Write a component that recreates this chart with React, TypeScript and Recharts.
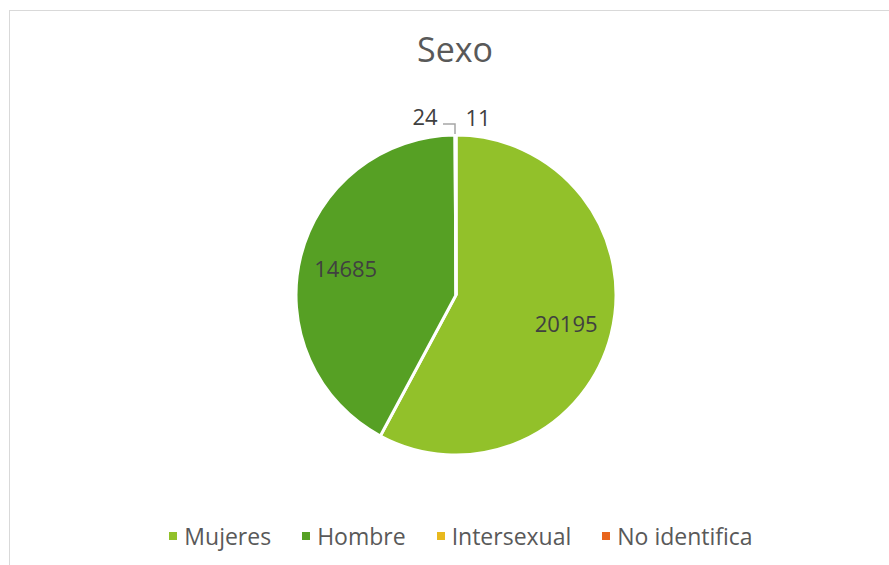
import { Pie, PieChart, Cell, Legend } from "recharts";

const categories = ["Mujeres", "Hombre", "Intersexual", "No identifica"];
const counts = [20195, 14685, 24, 11];
const colors = ["#92C12A", "#56A024", "#E8B91E", "#E8651D"];

const data = categories.map((name, i) => ({ name, value: counts[i] }));

const FONT = "'Open Sans', 'DejaVu Sans', sans-serif";

const RADIAN = Math.PI / 180;

function renderLabel(props: any) {
  const { cx, cy, midAngle, outerRadius, value, index } = props;
  if (index < 2) {
    const r = outerRadius * 0.71;
    const x = cx + r * Math.cos(-midAngle * RADIAN);
    const y = cy + r * Math.sin(-midAngle * RADIAN);
    return (
      <text x={x} y={y} fill="#404040" fontSize={22} fontFamily={FONT} textAnchor="middle" dominantBaseline="central">
        {value}
      </text>
    );
  }
  const top = cy - outerRadius;
  if (index === 2) {
    return (
      <g>
        <polyline
          points={`${cx - 13},${top - 11} ${cx - 1},${top - 11} ${cx - 1},${top - 1}`}
          fill="none"
          stroke="#a6a6a6"
          strokeWidth={1.5}
        />
        <text x={cx - 31} y={top - 19} fill="#404040" fontSize={22} fontFamily={FONT} textAnchor="middle" dominantBaseline="central">
          {value}
        </text>
      </g>
    );
  }
  return (
    <text x={cx + 22} y={top - 18} fill="#404040" fontSize={22} fontFamily={FONT} textAnchor="middle" dominantBaseline="central">
      {value}
    </text>
  );
}

function LegendContent() {
  return (
    <div style={{ display: "flex", justifyContent: "center", gap: 31, fontFamily: FONT, fontSize: 23, color: "#595959" }}>
      {categories.map((c, i) => (
        <div key={c} style={{ display: "flex", alignItems: "center" }}>
          <span style={{ width: 8, height: 8, background: colors[i], display: "inline-block", marginRight: 7 }} />
          <span>{c}</span>
        </div>
      ))}
    </div>
  );
}

export default function App() {
  return (
    <div style={{ position: "absolute", left: 0, top: 0, width: 889, height: 565, overflow: "hidden", background: "#fff" }}>
      <div
        style={{
          position: "absolute",
          left: 9,
          top: 10,
          width: 900,
          height: 600,
          border: "1.5px solid #d9d9d9",
          boxSizing: "border-box",
        }}
      />
      <div
        style={{
          position: "absolute",
          left: 0,
          top: 26,
          width: 910,
          textAlign: "center",
          fontFamily: FONT,
          fontSize: 34,
          color: "#595959",
        }}
      >
        Sexo
      </div>
      <div style={{ position: "absolute", left: 0, top: 0 }}>
        <PieChart width={889} height={565} margin={{ top: 0, right: 0, bottom: 0, left: 0 }}>
          <Pie
            data={data}
            dataKey="value"
            nameKey="name"
            cx={456}
            cy={295}
            outerRadius={160}
            startAngle={90}
            endAngle={-270}
            stroke="#ffffff"
            strokeWidth={3}
            label={renderLabel}
            labelLine={false}
            isAnimationActive={false}
          >
            {data.map((d, i) => (
              <Cell key={d.name} fill={colors[i]} />
            ))}
          </Pie>
          <Legend
            verticalAlign="bottom"
            wrapperStyle={{ left: 0, width: 922, bottom: 13 }}
            content={() => <LegendContent />}
          />
        </PieChart>
      </div>
    </div>
  );
}
